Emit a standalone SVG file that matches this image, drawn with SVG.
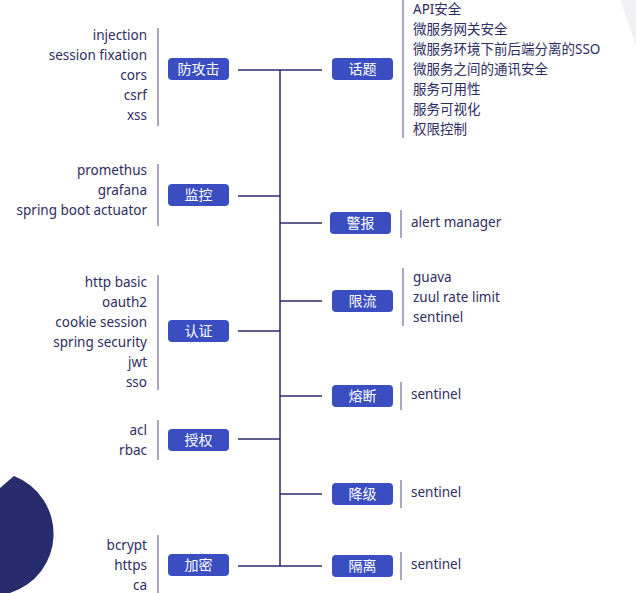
<svg xmlns="http://www.w3.org/2000/svg" width="636" height="593" viewBox="0 0 636 593">
<style>
.b{fill:#3a4ec2}
.bt{fill:#fff;font-family:"Noto Sans CJK SC",sans-serif;font-size:14px;text-anchor:middle}
.t{fill:#2e2d62;font-family:"Noto Sans","Noto Sans CJK SC",sans-serif;font-size:13.5px}
.l{text-anchor:end}
.c{stroke:#2b2a6b;stroke-width:1.5;fill:none}
.bar{stroke:#8c8aae;stroke-width:1.5}
</style>
<rect width="636" height="593" fill="#fff"/>
<path d="M620,0 L636,0 L636,45 Z" fill="#f1f1f4"/>
<path d="M14,476 A62 62 0 0 1 10,593 L0,593 L0,488 Z" fill="#262c6c"/>
<g id="connectors">
<path class="c" d="M280,70 V566 M238,70 H322 M238,196 H280 M280,223 H322 M280,301 H322 M238,331 H280 M280,396 H322 M238,439 H280 M280,494 H322 M238,566 H322"/>
</g>
<g id="n-fang"><rect class="b" x="168" y="58" width="61" height="22" rx="4"/><text class="bt" x="198.5" y="74">防攻击</text>
<line class="bar" x1="158" y1="28" x2="158" y2="126"/>
<text class="t l" x="147" y="40">injection</text><text class="t l" x="147" y="60">session fixation</text><text class="t l" x="147" y="80">cors</text><text class="t l" x="147" y="100">csrf</text><text class="t l" x="147" y="120">xss</text></g>
<g id="n-jian"><rect class="b" x="168" y="184" width="61" height="22" rx="4"/><text class="bt" x="198.5" y="200">监控</text>
<line class="bar" x1="158" y1="164" x2="158" y2="226"/>
<text class="t l" x="147" y="175">promethus</text><text class="t l" x="147" y="195">grafana</text><text class="t l" x="147" y="215">spring boot actuator</text></g>
<g id="n-ren"><rect class="b" x="168" y="320" width="61" height="22" rx="4"/><text class="bt" x="198.5" y="336">认证</text>
<line class="bar" x1="158" y1="275" x2="158" y2="390"/>
<text class="t l" x="147" y="287">http basic</text><text class="t l" x="147" y="307">oauth2</text><text class="t l" x="147" y="327">cookie session</text><text class="t l" x="147" y="347">spring security</text><text class="t l" x="147" y="367">jwt</text><text class="t l" x="147" y="387">sso</text></g>
<g id="n-shou"><rect class="b" x="168" y="429" width="61" height="22" rx="4"/><text class="bt" x="198.5" y="445">授权</text>
<line class="bar" x1="158" y1="420" x2="158" y2="460"/>
<text class="t l" x="147" y="435">acl</text><text class="t l" x="147" y="455">rbac</text></g>
<g id="n-jia"><rect class="b" x="168" y="554" width="61" height="22" rx="4"/><text class="bt" x="198.5" y="570">加密</text>
<line class="bar" x1="158" y1="535" x2="158" y2="593"/>
<text class="t l" x="147" y="550">bcrypt</text><text class="t l" x="147" y="570">https</text><text class="t l" x="147" y="590">ca</text></g>
<g id="n-hua"><rect class="b" x="332" y="58" width="61" height="22" rx="4"/><text class="bt" x="362.5" y="74">话题</text>
<line class="bar" x1="403" y1="0" x2="403" y2="138"/>
<text class="t" x="413" y="14">API安全</text><text class="t" x="413" y="34">微服务网关安全</text><text class="t" x="413" y="54">微服务环境下前后端分离的SSO</text><text class="t" x="413" y="74">微服务之间的通讯安全</text><text class="t" x="413" y="94">服务可用性</text><text class="t" x="413" y="114">服务可视化</text><text class="t" x="413" y="134">权限控制</text></g>
<g id="n-jing"><rect class="b" x="330" y="212" width="61" height="22" rx="4"/><text class="bt" x="360.5" y="228">警报</text>
<line class="bar" x1="401" y1="210" x2="401" y2="238"/><text class="t" x="411" y="227">alert manager</text></g>
<g id="n-xian"><rect class="b" x="332" y="290" width="61" height="22" rx="4"/><text class="bt" x="362.5" y="306">限流</text>
<line class="bar" x1="403" y1="268" x2="403" y2="326"/>
<text class="t" x="413" y="282">guava</text><text class="t" x="413" y="302">zuul rate limit</text><text class="t" x="413" y="322">sentinel</text></g>
<g id="n-rong"><rect class="b" x="332" y="385" width="61" height="22" rx="4"/><text class="bt" x="362.5" y="401">熔断</text>
<line class="bar" x1="401" y1="382" x2="401" y2="410"/><text class="t" x="411" y="399">sentinel</text></g>
<g id="n-jiang"><rect class="b" x="332" y="483" width="61" height="22" rx="4"/><text class="bt" x="362.5" y="499">降级</text>
<line class="bar" x1="401" y1="480" x2="401" y2="508"/><text class="t" x="411" y="497">sentinel</text></g>
<g id="n-ge"><rect class="b" x="332" y="555" width="61" height="22" rx="4"/><text class="bt" x="362.5" y="571">隔离</text>
<line class="bar" x1="401" y1="552" x2="401" y2="580"/><text class="t" x="411" y="569">sentinel</text></g>
</svg>
